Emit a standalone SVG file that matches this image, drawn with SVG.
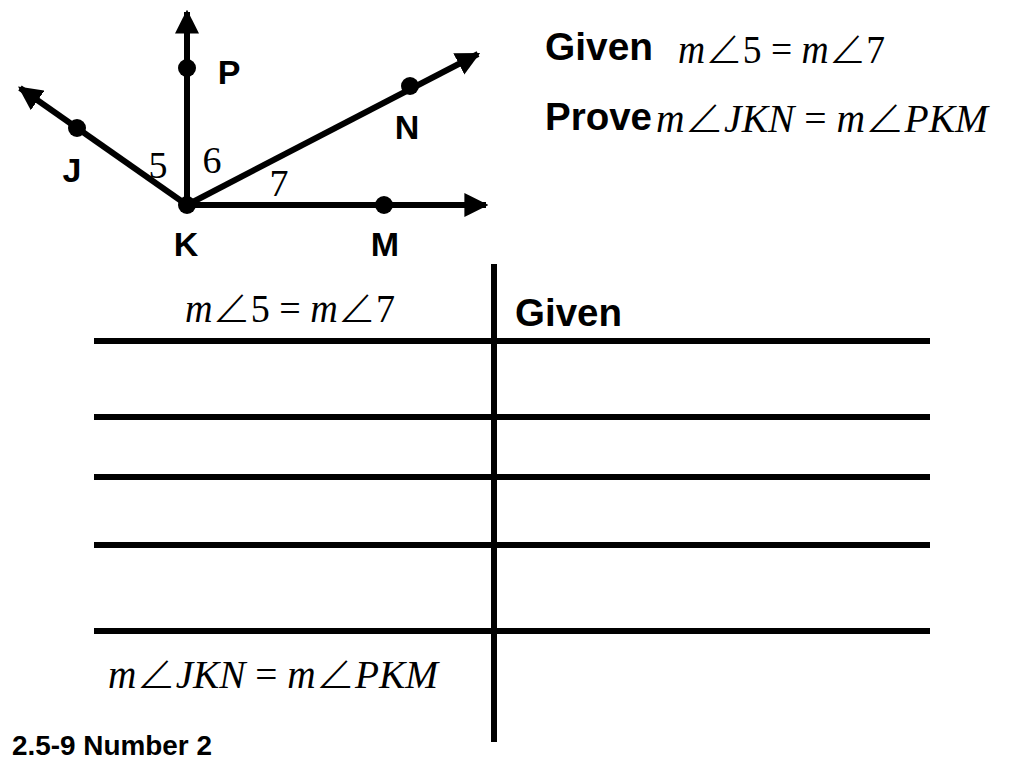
<svg xmlns="http://www.w3.org/2000/svg" width="1024" height="768" viewBox="0 0 1024 768">
<defs>
<style>
.ray{stroke:#000;stroke-width:6;fill:none}
.rule{stroke:#000;stroke-width:6;fill:none}
.lbl{font-family:"Liberation Sans",Arial,sans-serif;font-weight:bold;fill:#000}
.num{font-family:"Liberation Serif","Times New Roman",serif;fill:#000;font-size:38px}
.math{font-family:"Liberation Serif","Times New Roman",serif;fill:#000;font-size:40px}
.it{font-style:italic}
.ang{font-family:"Noto Sans CJK JP","DejaVu Sans",sans-serif;font-weight:300}
</style>
<marker id="arr" viewBox="0 0 10 10" refX="9" refY="5" markerWidth="4" markerHeight="4" markerUnits="strokeWidth" orient="auto">
<path d="M0,0 L10,5 L0,10 z" fill="#000"/>
</marker>
</defs>
<rect width="1024" height="768" fill="#fff"/>
<g id="connectors">
<line class="ray" x1="187" y1="205" x2="187" y2="12" marker-end="url(#arr)"/>
<line class="ray" x1="187" y1="205" x2="20" y2="88" marker-end="url(#arr)"/>
<line class="ray" x1="187" y1="205" x2="478" y2="54" marker-end="url(#arr)"/>
<line class="ray" x1="187" y1="205" x2="486" y2="205" marker-end="url(#arr)"/>
</g>
<g id="node-K"><circle cx="187" cy="205" r="9"/><text class="lbl" x="186" y="256" font-size="34" text-anchor="middle">K</text></g>
<g id="node-P"><circle cx="187" cy="68" r="9"/><text class="lbl" x="229" y="84" font-size="34" text-anchor="middle">P</text></g>
<g id="node-J"><circle cx="77" cy="128" r="9"/><text class="lbl" x="72" y="182" font-size="34" text-anchor="middle">J</text></g>
<g id="node-N"><circle cx="410" cy="86" r="9"/><text class="lbl" x="407" y="139" font-size="34" text-anchor="middle">N</text></g>
<g id="node-M"><circle cx="384" cy="205" r="9"/><text class="lbl" x="385" y="256" font-size="34" text-anchor="middle">M</text></g>
<g id="angle-labels">
<text class="num" x="158" y="178" text-anchor="middle">5</text>
<text class="num" x="212" y="173" text-anchor="middle">6</text>
<text class="num" x="279" y="196" text-anchor="middle">7</text>
</g>
<g id="given-prove">
<text class="lbl" x="545" y="60" font-size="38" textLength="108" lengthAdjust="spacingAndGlyphs">Given</text>
<text class="math" x="678" y="63" textLength="207" lengthAdjust="spacingAndGlyphs"><tspan class="it">m</tspan><tspan class="ang">∠</tspan>5 = <tspan class="it">m</tspan><tspan class="ang">∠</tspan>7</text>
<text class="lbl" x="545" y="130" font-size="38" textLength="107" lengthAdjust="spacingAndGlyphs">Prove</text>
<text class="math" x="656" y="132" textLength="332" lengthAdjust="spacingAndGlyphs"><tspan class="it">m</tspan><tspan class="ang">∠</tspan><tspan class="it">JKN</tspan> = <tspan class="it">m</tspan><tspan class="ang">∠</tspan><tspan class="it">PKM</tspan></text>
</g>
<g id="table">
<line class="rule" x1="494" y1="264" x2="494" y2="742"/>
<line class="rule" x1="94" y1="341" x2="930" y2="341"/>
<line class="rule" x1="94" y1="417" x2="930" y2="417"/>
<line class="rule" x1="94" y1="477" x2="930" y2="477"/>
<line class="rule" x1="94" y1="545" x2="930" y2="545"/>
<line class="rule" x1="94" y1="631" x2="930" y2="631"/>
<text class="math" x="185" y="322" textLength="210" lengthAdjust="spacingAndGlyphs"><tspan class="it">m</tspan><tspan class="ang">∠</tspan>5 = <tspan class="it">m</tspan><tspan class="ang">∠</tspan>7</text>
<text class="lbl" x="515" y="326" font-size="38" textLength="107" lengthAdjust="spacingAndGlyphs">Given</text>
<text class="math" x="108" y="688" textLength="330" lengthAdjust="spacingAndGlyphs"><tspan class="it">m</tspan><tspan class="ang">∠</tspan><tspan class="it">JKN</tspan> = <tspan class="it">m</tspan><tspan class="ang">∠</tspan><tspan class="it">PKM</tspan></text>
</g>
<text class="lbl" x="12" y="755" font-size="28" textLength="200" lengthAdjust="spacingAndGlyphs">2.5-9 Number 2</text>
</svg>
